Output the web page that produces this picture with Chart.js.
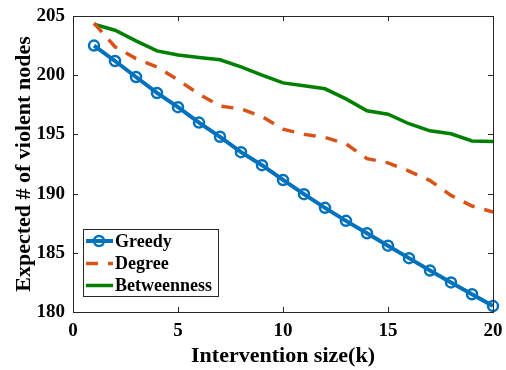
<!DOCTYPE html>
<html>
<head>
<meta charset="utf-8">
<script src="https://cdn.jsdelivr.net/npm/chart.js@4.4.1/dist/chart.umd.min.js"></script>
<style>
    html, body { margin: 0; padding: 0; background: #fff; }
    #wrap { width: 506px; height: 370px; }
</style>
</head>
<body>
<div id="wrap"><canvas id="chart" width="506" height="370"></canvas></div>
<script>
const kValues = [1, 2, 3, 4, 5, 6, 7, 8, 9, 10, 11, 12, 13, 14, 15, 16, 17, 18, 19, 20];
const greedy = [202.5, 201.2, 199.85, 198.5, 197.3, 196.0, 194.8, 193.5, 192.4, 191.15,
    189.95, 188.8, 187.7, 186.65, 185.6, 184.55, 183.5, 182.5, 181.5, 180.5];
const degree = [204.4, 202.4, 201.4, 200.7, 199.6, 198.4, 197.4, 197.15, 196.5, 195.45,
    195.0, 194.75, 194.2, 192.95, 192.6, 191.9, 191.1, 189.85, 188.95, 188.45];
const betweenness = [204.3, 203.8, 202.9, 202.05, 201.7, 201.5, 201.3, 200.7, 200.0, 199.35,
    199.1, 198.85, 198.0, 197.0, 196.7, 195.9, 195.3, 195.05, 194.45, 194.4];
const xTicks = [0, 5, 10, 15, 20];
const yTicks = [180, 185, 190, 195, 200, 205];

const serif = 'Liberation Serif, "Times New Roman", serif';
const axisColor = '#262626';

const toPoints = (ys) => ys.map((y, i) => ({ x: kValues[i], y }));

// MATLAB-style box with inward ticks on all four sides
const boxAxes = {
    id: 'boxAxes',
    afterDraw(chart) {
        const { ctx, chartArea: a, scales } = chart;
        const len = 5;
        ctx.save();
        ctx.strokeStyle = axisColor;
        ctx.lineWidth = 1;
        ctx.strokeRect(a.left + 0.5, a.top + 0.5, a.right - a.left, a.bottom - a.top);
        ctx.beginPath();
        xTicks.forEach((v) => {
            const px = Math.round(scales.x.getPixelForValue(v)) + 0.5;
            ctx.moveTo(px, a.bottom); ctx.lineTo(px, a.bottom - len);
            ctx.moveTo(px, a.top); ctx.lineTo(px, a.top + len);
        });
        yTicks.forEach((v) => {
            const py = Math.round(scales.y.getPixelForValue(v)) + 0.5;
            ctx.moveTo(a.left, py); ctx.lineTo(a.left + len, py);
            ctx.moveTo(a.right, py); ctx.lineTo(a.right - len, py);
        });
        ctx.stroke();
        ctx.restore();
    },
};

// legend box in the lower-left corner of the axes
const cornerLegend = {
    id: 'cornerLegend',
    afterDraw(chart) {
        const { ctx, chartArea: a } = chart;
        const x0 = a.left + 10, y0 = a.bottom - 83, w = 135, h = 67;
        const rows = [12, 34.5, 56.5];
        ctx.save();
        ctx.fillStyle = '#fff';
        ctx.fillRect(x0, y0, w, h);
        ctx.strokeStyle = axisColor;
        ctx.lineWidth = 1;
        ctx.strokeRect(x0 + 0.5, y0 + 0.5, w, h);
        chart.data.datasets.forEach((ds, i) => {
            const y = y0 + rows[i];
            ctx.strokeStyle = ds.borderColor;
            ctx.lineWidth = ds.borderWidth;
            ctx.setLineDash(ds.borderDash || []);
            ctx.beginPath();
            ctx.moveTo(x0 + 3, y);
            ctx.lineTo(x0 + 30, y);
            ctx.stroke();
            ctx.setLineDash([]);
            if (ds.pointRadius > 0) {
                ctx.lineWidth = ds.pointBorderWidth;
                ctx.beginPath();
                ctx.arc(x0 + 16, y, ds.pointRadius, 0, Math.PI * 2);
                ctx.stroke();
            }
            ctx.fillStyle = '#000';
            ctx.font = 'bold 18px ' + serif;
            ctx.textBaseline = 'middle';
            ctx.fillText(ds.label, x0 + 32, y + 1);
        });
        ctx.restore();
    },
};

new Chart(document.getElementById('chart'), {
    type: 'line',
    data: {
        datasets: [
            {
                label: 'Greedy',
                data: toPoints(greedy),
                borderColor: '#0072BD',
                borderWidth: 4,
                pointRadius: 5,
                pointBorderWidth: 2.5,
                pointBackgroundColor: 'rgba(0,0,0,0)',
                pointBorderColor: '#0072BD',
                clip: false,
            },
            {
                label: 'Degree',
                data: toPoints(degree),
                borderColor: '#D95319',
                borderWidth: 3.5,
                borderDash: [12, 10],
                pointRadius: 0,
                clip: false,
            },
            {
                label: 'Betweenness',
                data: toPoints(betweenness),
                borderColor: '#008000',
                borderWidth: 3.5,
                pointRadius: 0,
                clip: false,
            },
        ],
    },
    options: {
        responsive: false,
        animation: false,
        layout: { padding: { top: 16, right: 13, left: 0, bottom: 0 } },
        plugins: { legend: { display: false }, tooltip: { enabled: false } },
        elements: { line: { tension: 0, borderCapStyle: 'butt' } },
        scales: {
            x: {
                type: 'linear',
                min: 0,
                max: 20,
                afterBuildTicks: (s) => { s.ticks = xTicks.map((v) => ({ value: v })); },
                afterFit: (s) => { s.height = 58; s.paddingLeft = 0; s.paddingRight = 0; },
                grid: { display: false, drawTicks: false },
                border: { display: false },
                ticks: { color: '#000', padding: 8, font: { family: serif, size: 19, weight: 'bold' } },
                title: {
                    display: true,
                    text: 'Intervention size(k)',
                    color: '#000',
                    padding: { top: 4, bottom: 0 },
                    font: { family: serif, size: 22, weight: 'bold' },
                },
            },
            y: {
                min: 180,
                max: 205,
                afterBuildTicks: (s) => { s.ticks = yTicks.map((v) => ({ value: v })); },
                afterFit: (s) => { s.width = 73; s.paddingTop = 0; s.paddingBottom = 0; },
                grid: { display: false, drawTicks: false },
                border: { display: false },
                ticks: { color: '#000', padding: 8, font: { family: serif, size: 19, weight: 'bold' } },
                title: {
                    display: true,
                    text: 'Expected # of violent nodes',
                    color: '#000',
                    padding: { top: 11, bottom: 0 },
                    font: { family: serif, size: 22, weight: 'bold' },
                },
            },
        },
    },
    plugins: [boxAxes, cornerLegend],
});
</script>
</body>
</html>
